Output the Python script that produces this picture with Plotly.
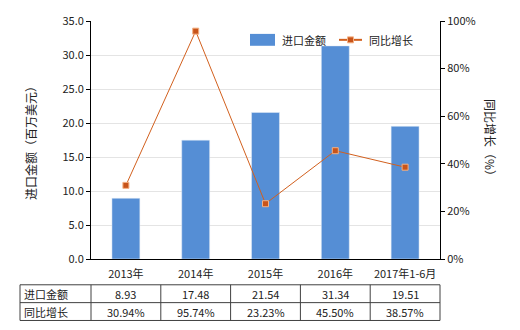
import plotly.graph_objects as go

categories = ["2013年", "2014年", "2015年", "2016年", "2017年1-6月"]
import_amount = [8.93, 17.48, 21.54, 31.34, 19.51]
growth_pct = [30.94, 95.74, 23.23, 45.50, 38.57]
amount_labels = ["8.93", "17.48", "21.54", "31.34", "19.51"]
growth_labels = ["30.94%", "95.74%", "23.23%", "45.50%", "38.57%"]
row_names = ["进口金额", "同比增长"]
series_names = ["进口金额", "同比增长"]

FONT = "Noto Sans CJK SC, Microsoft YaHei, sans-serif"
W, H = 520, 330
L, R, T, B = 91, 80, 19, 71
pw, ph = W - L - R, H - T - B
BAR_COLOR = "#558ED5"
LINE_COLOR = "#D2601E"

def px2x(px):
    return (px - L) / pw

def py2y(py):
    return (H - B - py) / ph

fig = go.Figure()
fig.add_trace(go.Bar(x=categories, y=import_amount, name=series_names[0],
                     marker_color=BAR_COLOR, width=0.4, showlegend=False))
fig.add_trace(go.Scatter(x=categories, y=growth_pct, name=series_names[1], yaxis="y2",
                         mode="lines+markers", showlegend=False,
                         line=dict(color=LINE_COLOR, width=1),
                         marker=dict(symbol="square", size=6, color="#C8541A",
                                     line=dict(color="#F4B183", width=1))))

shapes = []
annotations = []
# table geometry
top_px, mid_px, bot_px = 285, 303, 321
left_px = 20
n = len(categories)
col_w = pw / n
xs_px = [left_px, L] + [L + col_w * (i + 1) for i in range(n)]
for ypx in (top_px, mid_px, bot_px):
    shapes.append(dict(type="line", xref="paper", yref="paper",
                       x0=px2x(left_px), x1=px2x(L + pw), y0=py2y(ypx), y1=py2y(ypx),
                       line=dict(color="#404040", width=1)))
for xp in xs_px:
    shapes.append(dict(type="line", xref="paper", yref="paper",
                       x0=px2x(xp), x1=px2x(xp), y0=py2y(top_px), y1=py2y(bot_px),
                       line=dict(color="#404040", width=1)))
for r, (name, labels) in enumerate(zip(row_names, [amount_labels, growth_labels])):
    yc = py2y((top_px + mid_px) / 2 + r * (mid_px - top_px))
    annotations.append(dict(xref="paper", yref="paper", x=px2x(left_px + 2), y=yc,
                            text=name, showarrow=False, xanchor="left", yanchor="middle",
                            font=dict(size=11, color="#222222", family=FONT)))
    for i, lab in enumerate(labels):
        annotations.append(dict(xref="paper", yref="paper", x=px2x(L + col_w * (i + 0.5)), y=yc,
                                text=lab, showarrow=False, xanchor="center", yanchor="middle",
                                font=dict(size=11, color="#222222", family=FONT)))

# manual legend
leg_y = 38
shapes.append(dict(type="rect", xref="paper", yref="paper",
                   x0=px2x(250), x1=px2x(275), y0=py2y(32), y1=py2y(44),
                   fillcolor=BAR_COLOR, line=dict(width=0)))
annotations.append(dict(xref="paper", yref="paper", x=px2x(280), y=py2y(leg_y),
                        text=series_names[0], showarrow=False, xanchor="left", yanchor="middle",
                        font=dict(size=11, color="#222222", family=FONT)))
shapes.append(dict(type="line", xref="paper", yref="paper",
                   x0=px2x(339), x1=px2x(362), y0=py2y(leg_y), y1=py2y(leg_y),
                   line=dict(color=LINE_COLOR, width=2)))
shapes.append(dict(type="rect", xref="paper", yref="paper",
                   x0=px2x(347.5), x1=px2x(353.5), y0=py2y(leg_y - 3), y1=py2y(leg_y + 3),
                   fillcolor="#C8541A", line=dict(color="#F4B183", width=1)))
annotations.append(dict(xref="paper", yref="paper", x=px2x(367), y=py2y(leg_y),
                        text=series_names[1], showarrow=False, xanchor="left", yanchor="middle",
                        font=dict(size=11, color="#222222", family=FONT)))

# axis titles
annotations.append(dict(xref="paper", yref="paper", x=px2x(30), y=0.5,
                        text="进口金额（百万美元）", showarrow=False, textangle=-90,
                        xanchor="center", yanchor="middle",
                        font=dict(size=12, color="#222222", family=FONT)))
annotations.append(dict(xref="paper", yref="paper", x=px2x(491), y=0.5,
                        text="同比增长（%）", showarrow=False, textangle=90,
                        xanchor="center", yanchor="middle",
                        font=dict(size=12, color="#222222", family=FONT)))

fig.update_layout(
    width=W, height=H,
    margin=dict(l=L, r=R, t=T, b=B),
    paper_bgcolor="white", plot_bgcolor="white",
    font=dict(family=FONT, size=11, color="#222222"),
    showlegend=False,
    xaxis=dict(range=[-0.5, 4.5], showline=True, linecolor="black", linewidth=1,
               ticks="outside", ticklen=5, tickcolor="rgba(0,0,0,0)", tickfont=dict(size=11)),
    yaxis=dict(range=[0, 35], dtick=5, tickformat=".1f", showline=True, linecolor="black",
               ticks="outside", ticklen=4, tickcolor="black", showgrid=True,
               gridcolor="#E4E4E4", zeroline=False, tickfont=dict(size=11)),
    yaxis2=dict(range=[0, 100], dtick=20, ticksuffix="%", overlaying="y", side="right",
                showline=True, linecolor="black", ticks="outside", ticklen=4,
                tickcolor="black", showgrid=False, zeroline=False, tickfont=dict(size=11)),
    shapes=shapes, annotations=annotations, bargap=0.6,
)
fig.write_html("out.html")
